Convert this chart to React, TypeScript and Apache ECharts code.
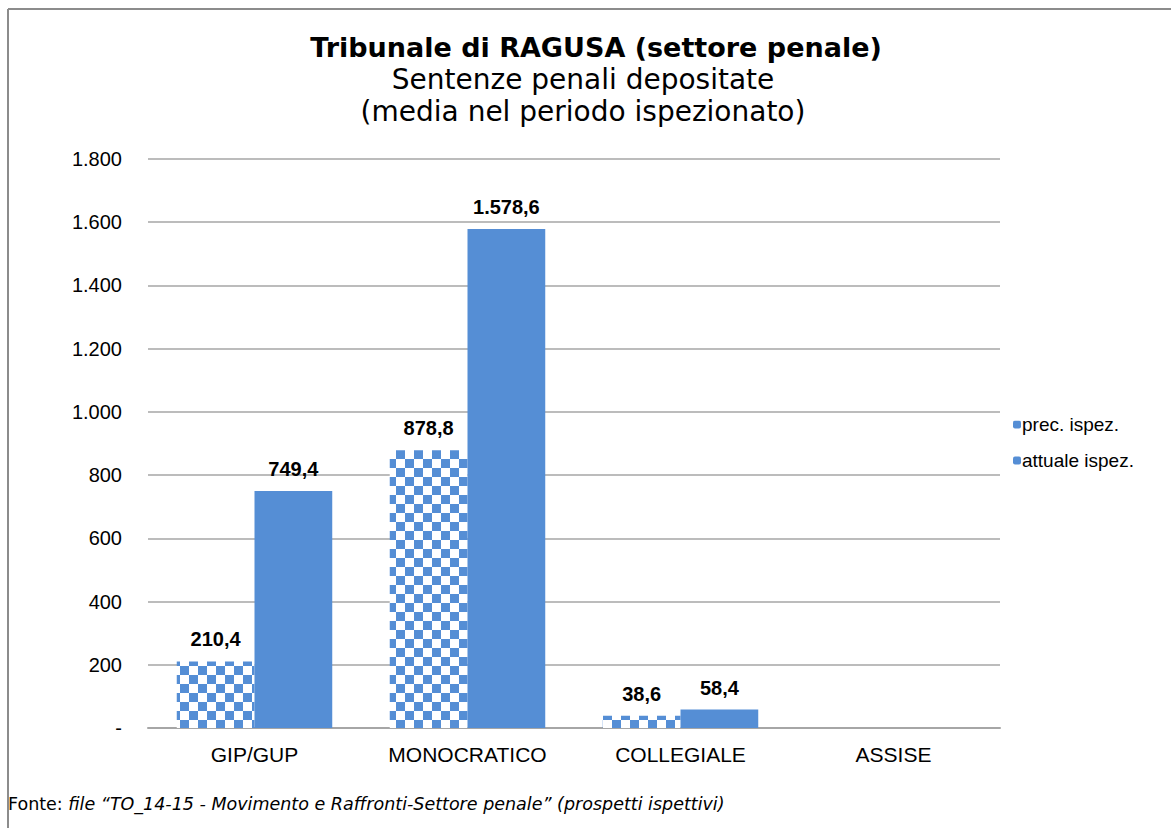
import React, { useEffect, useRef } from "react";
import * as echarts from "echarts";

const categories = ["GIP/GUP", "MONOCRATICO", "COLLEGIALE", "ASSISE"];
const precValues = [210.4, 878.8, 38.6, 0];
const attualeValues = [749.4, 1578.6, 58.4, 0];
const seriesNames = ["prec. ispez.", "attuale ispez."];
const yTicks = { min: 0, max: 1800, interval: 200 };

const BLUE = "#558ed5";
const ARIAL = "Liberation Sans, Arial, sans-serif";
const VERDANA = "DejaVu Sans, Verdana, sans-serif";

function fmtThousands(v: number): string {
  if (v === 0) return "-";
  return String(v).replace(/\B(?=(\d{3})+(?!\d))/g, ".");
}
function fmtLabel(v: number): string {
  if (!v) return "";
  const [i, d] = v.toFixed(1).split(".");
  return fmtThousands(Number(i)) + "," + d;
}

function makeChecker(): HTMLCanvasElement {
  const c = document.createElement("canvas");
  const s = 9;
  c.width = s * 2;
  c.height = s * 2;
  const ctx = c.getContext("2d")!;
  ctx.fillStyle = "#ffffff";
  ctx.fillRect(0, 0, s * 2, s * 2);
  ctx.fillStyle = BLUE;
  ctx.fillRect(0, 0, s, s);
  ctx.fillRect(s, s, s, s);
  return c;
}

export default function App() {
  const ref = useRef<HTMLDivElement>(null);
  useEffect(() => {
    document.body.style.margin = "0";
    const chart = echarts.init(ref.current!, undefined, { renderer: "svg" });
    const checker = makeChecker();
    const labelStyle = {
      show: true,
      position: "top" as const,
      fontFamily: ARIAL,
      fontWeight: "bold" as const,
      fontSize: 20,
      color: "#000",
      distance: 12,
      formatter: (p: any) => fmtLabel(p.value),
    };
    chart.setOption({
      animation: false,
      backgroundColor: "#fff",
      grid: { left: 148, right: 171, top: 159, bottom: 100 },
      legend: {
        orient: "vertical",
        left: 1008,
        top: 410,
        itemWidth: 8,
        itemHeight: 8,
        itemGap: 17,
        textStyle: { fontFamily: ARIAL, fontSize: 19, color: "#000", padding: [0, 0, 0, -4] },
        data: seriesNames,
      },
      xAxis: {
        type: "category",
        data: categories,
        axisTick: { show: false },
        axisLine: { lineStyle: { color: "#a6a6a6", width: 2 } },
        axisLabel: { fontFamily: ARIAL, fontSize: 21, color: "#000", margin: 16 },
      },
      yAxis: {
        type: "value",
        min: yTicks.min,
        max: yTicks.max,
        interval: yTicks.interval,
        axisLine: { show: false },
        axisTick: { show: false },
        splitLine: { lineStyle: { color: "#a6a6a6", width: 1.5 } },
        axisLabel: {
          fontFamily: ARIAL,
          fontSize: 20,
          color: "#000",
          margin: 26,
          formatter: (v: number) => fmtThousands(v),
        },
      },
      series: [
        {
          name: seriesNames[0],
          type: "bar",
          data: precValues,
          barGap: "0%",
          barCategoryGap: "27%",
          itemStyle: { color: { image: checker, repeat: "repeat" } as any },
          label: labelStyle,
        },
        {
          name: seriesNames[1],
          type: "bar",
          data: attualeValues,
          itemStyle: { color: BLUE },
          label: labelStyle,
        },
      ],
      graphic: [
        { type: "line", shape: { x1: 8, y1: 9, x2: 1171, y2: 9 }, style: { stroke: "#8c8c8c", lineWidth: 2 } },
        { type: "line", shape: { x1: 8, y1: 9, x2: 8, y2: 828 }, style: { stroke: "#8c8c8c", lineWidth: 2 } },
        {
          type: "text",
          x: 596,
          y: 47,
          style: {
            text: "Tribunale di RAGUSA (settore penale)",
            fontFamily: VERDANA,
            fontWeight: "bold",
            fontSize: 27,
            fill: "#000",
            align: "center",
            verticalAlign: "middle",
          },
        },
        {
          type: "text",
          x: 583,
          y: 79,
          style: {
            text: "Sentenze penali depositate",
            fontFamily: VERDANA,
            fontSize: 28,
            fill: "#000",
            align: "center",
            verticalAlign: "middle",
          },
        },
        {
          type: "text",
          x: 583,
          y: 111,
          style: {
            text: "(media nel periodo ispezionato)",
            fontFamily: VERDANA,
            fontSize: 28,
            fill: "#000",
            align: "center",
            verticalAlign: "middle",
          },
        },
        {
          type: "text",
          x: 8,
          y: 804,
          style: {
            text: "{n|Fonte: }{i|file \u201cTO_14-15 - Movimento e Raffronti-Settore penale\u201d (prospetti ispettivi)}",
            rich: {
              n: { fontFamily: VERDANA, fontSize: 17.5, fill: "#000" },
              i: { fontFamily: VERDANA, fontSize: 17.5, fontStyle: "italic", fill: "#000" },
            },
            verticalAlign: "middle",
          },
        },
      ],
    });
    return () => chart.dispose();
  }, []);
  return <div ref={ref} style={{ width: 1171, height: 828 }} />;
}
